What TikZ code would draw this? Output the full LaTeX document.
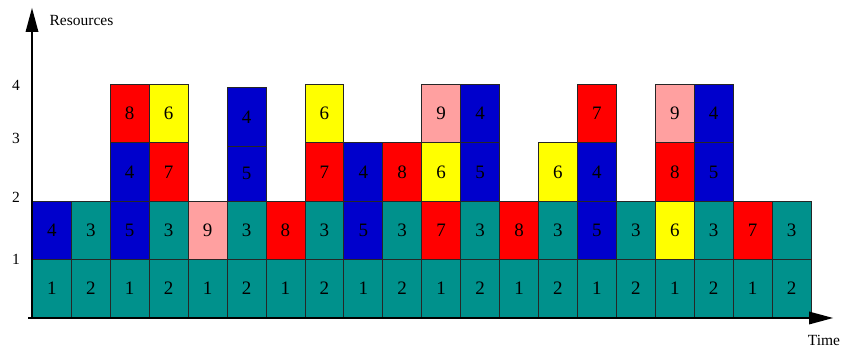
\documentclass[tikz,border=0pt]{standalone}
\usepackage{fontspec}
\setmainfont{Liberation Serif}
\definecolor{cteal}{RGB}{0,145,140}
\definecolor{cblue}{RGB}{0,0,204}
\definecolor{cred}{RGB}{255,0,0}
\definecolor{cyel}{RGB}{255,255,0}
\definecolor{cpink}{RGB}{255,160,160}
\tikzset{
  blockbox/.style={draw=black!85, line width=0.8pt, rectangle, inner sep=0pt,
    minimum width=38.93pt, minimum height=58.25pt, anchor=south west,
    font=\fontsize{19}{19}\selectfont},
  axislabel/.style={font=\fontsize{15.5}{15.5}\selectfont, inner sep=0pt},
  axisline/.style={line width=1.8pt},
  axishead/.style={fill=black}
}
\newcommand{\blk}[4]{%
  \pgfmathsetmacro{\bx}{32+(#1-1)*38.93}%
  \pgfmathsetmacro{\by}{29+(#2-1)*58.25}%
  \node[blockbox, fill=#3] (b#1-#2) at (\bx,\by) {#4};}
\begin{document}
\begin{tikzpicture}[x=1pt,y=1pt]
\useasboundingbox (0,0) rectangle (842,347);
% columns
\blk{1}{1}{cteal}{1}\blk{1}{2}{cblue}{4}
\blk{2}{1}{cteal}{2}\blk{2}{2}{cteal}{3}
\blk{3}{1}{cteal}{1}\blk{3}{2}{cblue}{5}\blk{3}{3}{cblue}{4}\blk{3}{4}{cred}{8}
\blk{4}{1}{cteal}{2}\blk{4}{2}{cteal}{3}\blk{4}{3}{cred}{7}\blk{4}{4}{cyel}{6}
\blk{5}{1}{cteal}{1}\blk{5}{2}{cpink}{9}
\blk{6}{1}{cteal}{2}\blk{6}{2}{cteal}{3}
\node[blockbox, fill=cblue, minimum height=54.5pt] (b6-3) at (226.65,145.5) {5};
\node[blockbox, fill=cblue, minimum height=59pt] (b6-4) at (226.65,200) {4};
\blk{7}{1}{cteal}{1}\blk{7}{2}{cred}{8}
\blk{8}{1}{cteal}{2}\blk{8}{2}{cteal}{3}\blk{8}{3}{cred}{7}\blk{8}{4}{cyel}{6}
\blk{9}{1}{cteal}{1}\blk{9}{2}{cblue}{5}\blk{9}{3}{cblue}{4}
\blk{10}{1}{cteal}{2}\blk{10}{2}{cteal}{3}\blk{10}{3}{cred}{8}
\blk{11}{1}{cteal}{1}\blk{11}{2}{cred}{7}\blk{11}{3}{cyel}{6}\blk{11}{4}{cpink}{9}
\blk{12}{1}{cteal}{2}\blk{12}{2}{cteal}{3}\blk{12}{3}{cblue}{5}\blk{12}{4}{cblue}{4}
\blk{13}{1}{cteal}{1}\blk{13}{2}{cred}{8}
\blk{14}{1}{cteal}{2}\blk{14}{2}{cteal}{3}\blk{14}{3}{cyel}{6}
\blk{15}{1}{cteal}{1}\blk{15}{2}{cblue}{5}\blk{15}{3}{cblue}{4}\blk{15}{4}{cred}{7}
\blk{16}{1}{cteal}{2}\blk{16}{2}{cteal}{3}
\blk{17}{1}{cteal}{1}\blk{17}{2}{cyel}{6}\blk{17}{3}{cred}{8}\blk{17}{4}{cpink}{9}
\blk{18}{1}{cteal}{2}\blk{18}{2}{cteal}{3}\blk{18}{3}{cblue}{5}\blk{18}{4}{cblue}{4}
\blk{19}{1}{cteal}{1}\blk{19}{2}{cred}{7}
\blk{20}{1}{cteal}{2}\blk{20}{2}{cteal}{3}
% axes
\coordinate (origin) at (32,29);
\coordinate (xstart) at (28,29);
\coordinate (xend) at (833,29);
\coordinate (yend) at (32,339);
\draw[axisline] (origin) -- ++(0,290);
\fill[axishead] (yend) -- ++(-6.5,-24) -- ++(13,0) -- cycle;
\draw[axisline] (xstart) -- ++(785,0);
\fill[axishead] (xend) -- ++(-24,6.5) -- ++(0,-13) -- cycle;
\node[axislabel] (ylab) at (81.5,326) {Resources};
\node[axislabel] (xlab) at (824,7) {Time};
\node[axislabel] (t4) at (16,262) {4};
\node[axislabel] (t3) at (16,209) {3};
\node[axislabel] (t2) at (16,150) {2};
\node[axislabel] (t1) at (16,88) {1};
\end{tikzpicture}
\end{document}
